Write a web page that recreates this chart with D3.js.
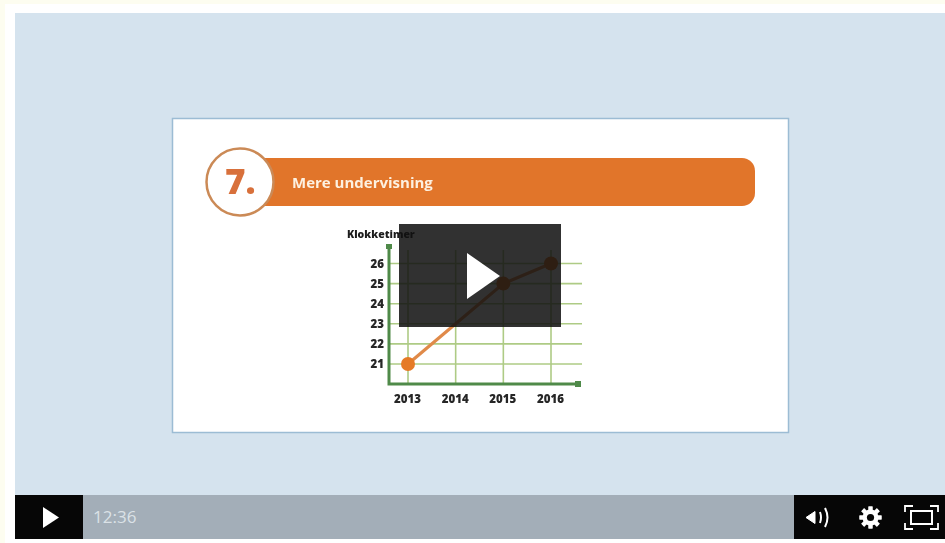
<!DOCTYPE html>
<html>
<head>
    <title>Mere undervisning</title>
    <script src="https://d3js.org/d3.v7.min.js"></script>
    <style>
        html, body { margin: 0; padding: 0; background: #fff; overflow: hidden; }
        #svg01 { display: block; }
        #svg01 text { font-family: "Open Sans", "Noto Sans", sans-serif; }
        #svg01 .domain { display: none; }
        #svg01 .tick line { display: none; }
        #svg01 .tick text { font-size: 11.5px; font-weight: 800; fill: #262626; }
    </style>
</head>
<body>
<svg id="svg01"></svg>
<script>
    var years = ['2013', '2014', '2015', '2016'];
    var hours = [21, 23, 25, 26];
    var yTicks = [21, 22, 23, 24, 25, 26];
    var heading = 'Mere undervisning';
    var headingNumber = '7.';
    var yTitle = 'Klokketimer';
    var timeLabel = '12:36';

    var width = 945, height = 543;

    var svg = d3.select('#svg01')
        .attr('width', width)
        .attr('height', height);

    var defs = svg.append('defs');
    defs.append('filter').attr('id', 'soft')
        .append('feGaussianBlur').attr('stdDeviation', 0.55);

    // page + video frame
    svg.append('rect').attr('width', width).attr('height', height).attr('fill', '#ffffff');
    svg.append('rect').attr('width', width).attr('height', 4).attr('fill', '#fdfdf0');
    svg.append('rect').attr('width', 5).attr('height', height).attr('fill', '#fdfdf0');
    svg.append('rect').attr('x', 15).attr('y', 13).attr('width', 930).attr('height', 482).attr('fill', '#d5e3ee');

    // slide
    var slide = svg.append('g').attr('filter', 'url(#soft)');
    slide.append('rect').attr('x', 172.5).attr('y', 118.5).attr('width', 616).attr('height', 314)
        .attr('fill', '#ffffff').attr('stroke', '#9cbcd4').attr('stroke-width', 1.5);

    slide.append('rect').attr('x', 250).attr('y', 158).attr('width', 505).attr('height', 48)
        .attr('rx', 13).attr('fill', '#e1742b');
    slide.append('circle').attr('cx', 240).attr('cy', 182).attr('r', 33.5)
        .attr('fill', '#ffffff').attr('stroke', '#cb8a57').attr('stroke-width', 2.5);
    slide.append('text').attr('x', 225).attr('y', 194)
        .attr('font-size', 35).attr('font-weight', 800).attr('fill', '#d8703a')
        .text(headingNumber);
    slide.append('text').attr('x', 292).attr('y', 188)
        .attr('font-size', 15).attr('font-weight', 700).attr('fill', '#fdf1e0')
        .text(heading);

    // chart
    var x = d3.scalePoint().domain(years).range([408, 551]);
    var y = d3.scaleLinear().domain([21, 26]).range([364, 263.5]);
    var axisX = 389, axisY = 384, axisRight = 578, axisTop = 247, gridRight = 582, gridTop = 250;

    var chart = svg.append('g').attr('filter', 'url(#soft)');

    chart.selectAll('.hgrid').data(yTicks).enter().append('line')
        .attr('class', 'hgrid')
        .attr('x1', axisX).attr('x2', gridRight)
        .attr('y1', function (d) { return y(d); })
        .attr('y2', function (d) { return y(d); })
        .attr('stroke', '#aecb85').attr('stroke-width', 1.6);

    chart.selectAll('.vgrid').data(years).enter().append('line')
        .attr('class', 'vgrid')
        .attr('x1', function (d) { return x(d); })
        .attr('x2', function (d) { return x(d); })
        .attr('y1', gridTop).attr('y2', axisY)
        .attr('stroke', '#aecb85').attr('stroke-width', 1.6);

    chart.append('path')
        .attr('d', 'M' + axisX + ',' + axisTop + 'V' + axisY + 'H' + axisRight)
        .attr('fill', 'none').attr('stroke', '#4f8a48').attr('stroke-width', 3);
    chart.append('rect').attr('x', axisX - 3).attr('y', axisTop - 3).attr('width', 6).attr('height', 5).attr('fill', '#4f8a48');
    chart.append('rect').attr('x', axisRight - 3).attr('y', axisY - 3).attr('width', 6).attr('height', 6).attr('fill', '#4f8a48');

    chart.append('g')
        .attr('transform', 'translate(-1,' + (axisY + 8) + ')')
        .call(d3.axisBottom(x).tickSize(0).tickPadding(3));

    chart.append('g')
        .attr('transform', 'translate(' + (axisX - 2) + ',0)')
        .call(d3.axisLeft(y).tickValues(yTicks).tickFormat(d3.format('d')).tickSize(0).tickPadding(3));

    chart.append('text').attr('x', 347).attr('y', 238)
        .attr('font-size', 10.5).attr('font-weight', 800).attr('fill', '#1e1e1e')
        .text(yTitle);

    var line = d3.line()
        .x(function (d, i) { return x(years[i]); })
        .y(function (d) { return y(d); });

    chart.append('path').datum(hours)
        .attr('d', line)
        .attr('fill', 'none').attr('stroke', '#e08a4a').attr('stroke-width', 3.2);

    // the 2014 point has no visible dot in the picture
    chart.selectAll('.dot').data(hours).enter().append('circle')
        .attr('class', 'dot')
        .attr('cx', function (d, i) { return x(years[i]); })
        .attr('cy', function (d) { return y(d); })
        .attr('r', function (d, i) { return i === 1 ? 0 : 7; })
        .attr('fill', '#e57a25');

    // big play overlay
    svg.append('rect').attr('x', 399).attr('y', 224).attr('width', 162).attr('height', 103)
        .attr('fill', '#0f0f0f').attr('fill-opacity', 0.86);
    svg.append('path').attr('d', 'M467,253L500,276L467,299Z').attr('fill', '#ffffff');

    // control bar
    svg.append('rect').attr('x', 15).attr('y', 495).attr('width', 930).attr('height', 44).attr('fill', '#a3aeb8');
    svg.append('rect').attr('x', 15).attr('y', 495).attr('width', 68).attr('height', 44).attr('fill', '#060606');
    svg.append('rect').attr('x', 794).attr('y', 495).attr('width', 151).attr('height', 44).attr('fill', '#060606');
    svg.append('path').attr('d', 'M43,507L59,517.5L43,528Z').attr('fill', '#ffffff');
    svg.append('text').attr('x', 93).attr('y', 523)
        .attr('font-size', 17).attr('fill', '#dbe2e7')
        .text(timeLabel);

    // volume icon
    svg.append('path').attr('d', 'M806,517.5L815,511.5V523.5Z').attr('fill', '#fff').attr('stroke', '#fff').attr('stroke-width', 1);
    svg.append('path').attr('d', 'M820,512Q822,517.5 820,523M825,508Q830,517.5 825,527')
        .attr('fill', 'none').attr('stroke', '#fff').attr('stroke-width', 2);

    // gear icon
    var gear = svg.append('g').attr('transform', 'translate(870.5,517.5)');
    gear.selectAll('rect').data(d3.range(8)).enter().append('rect')
        .attr('x', -2).attr('y', -11).attr('width', 4).attr('height', 22)
        .attr('fill', '#fff')
        .attr('transform', function (d) { return 'rotate(' + d * 45 + ')'; });
    gear.append('circle').attr('r', 8).attr('fill', '#fff');
    gear.append('circle').attr('r', 3.6).attr('fill', '#060606');

    // fullscreen icon
    svg.append('rect').attr('x', 911).attr('y', 511).attr('width', 21).attr('height', 13)
        .attr('fill', 'none').attr('stroke', '#fff').attr('stroke-width', 2);
    svg.append('path').attr('d', 'M905,512V506H913M930,506H938V512M905,523V529H913M930,529H938V523')
        .attr('fill', 'none').attr('stroke', '#fff').attr('stroke-width', 1.8);
</script>
</body>
</html>
